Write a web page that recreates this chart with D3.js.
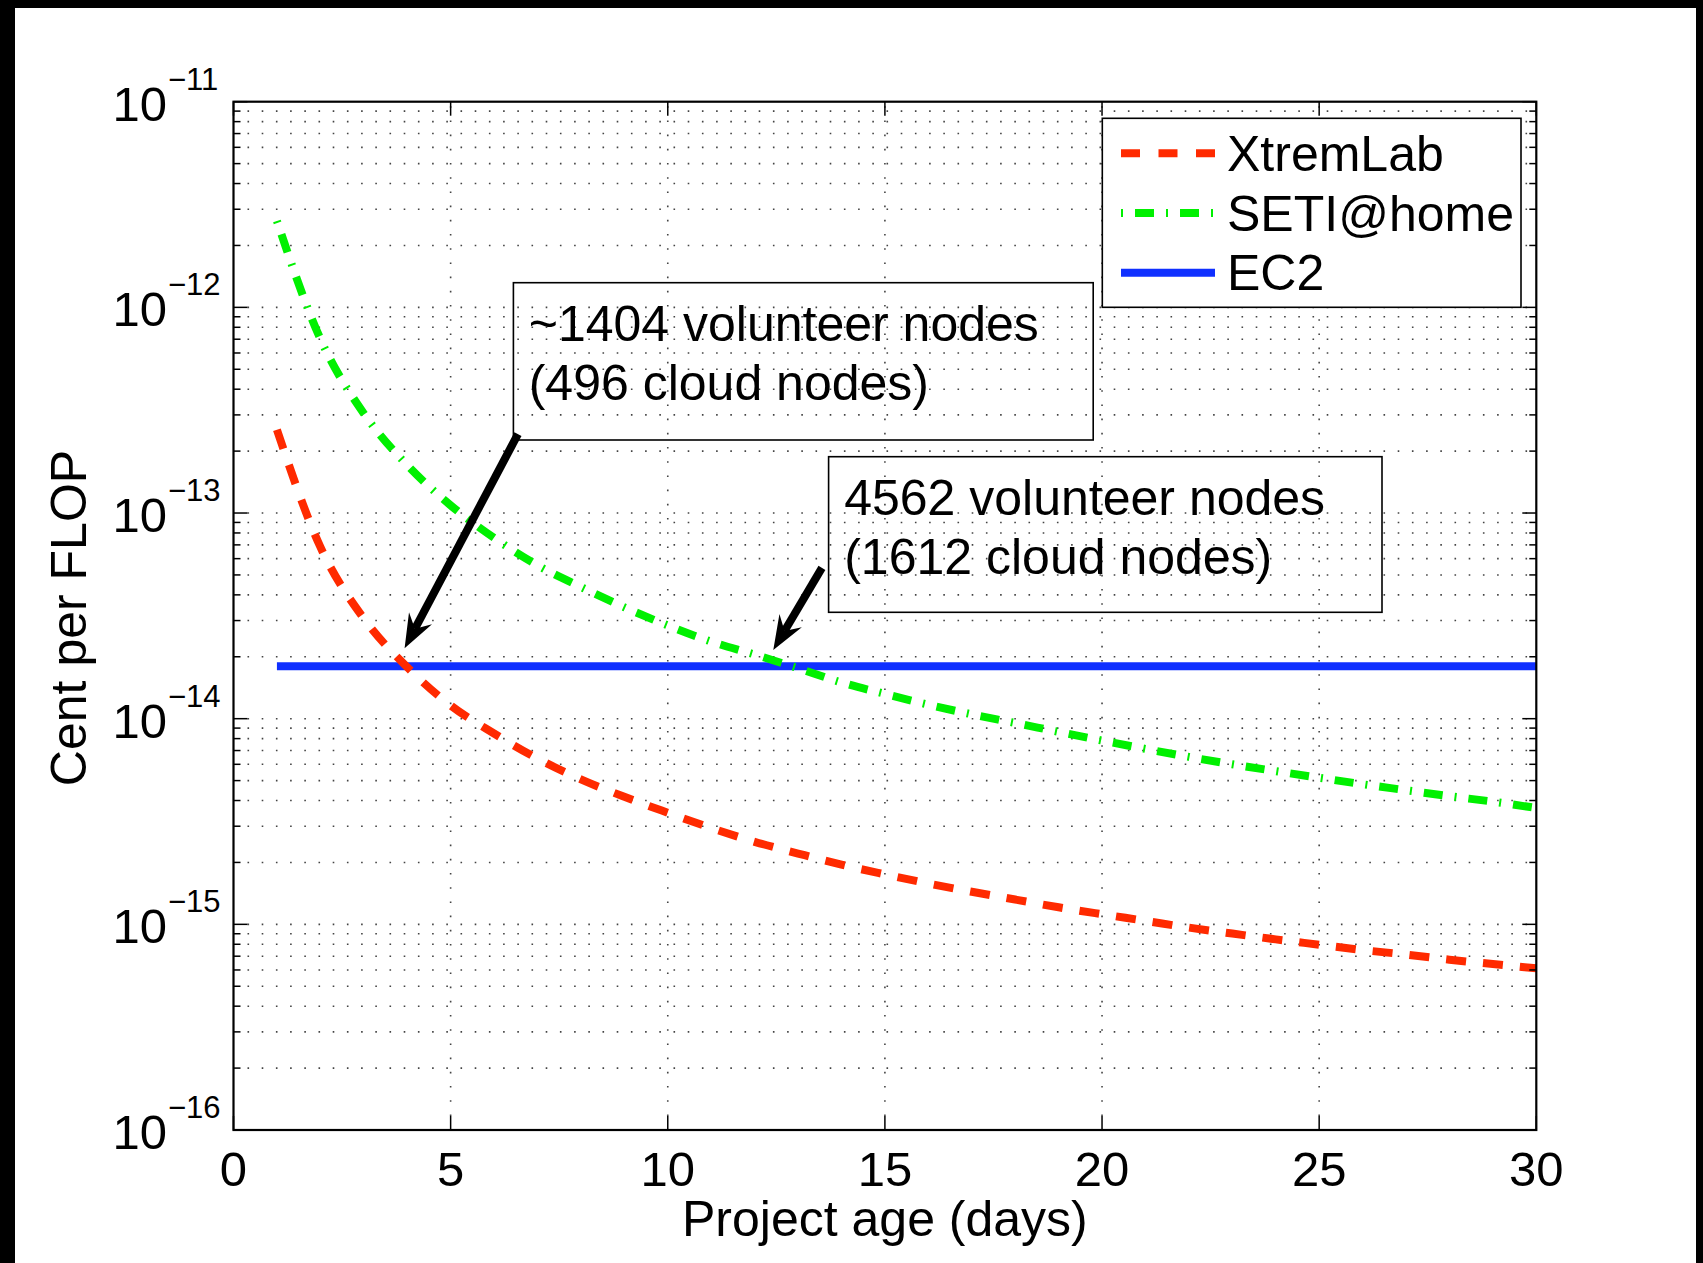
<!DOCTYPE html>
<html>
<head>
<meta charset="utf-8">
<script src="https://cdn.jsdelivr.net/npm/d3@7"></script>
<style>
  html, body { margin: 0; padding: 0; background: #000; }
  svg { display: block; }
  text { font-family: "Liberation Sans", Arial, Helvetica, sans-serif; fill: #000; }
</style>
</head>
<body>
<script>
// ---------------- DATA ----------------
const days = [1,2,3,4,5,6,7,8,9,10,11,12,13,14,15,16,17,18,19,20,21,22,23,24,25,26,27,28,29,30];
const xtremlab = [2.54e-13, 6.84e-14, 3.07e-14, 1.78e-14, 1.16e-14, 8.47e-15, 6.40e-15, 5.07e-15, 4.17e-15, 3.49e-15,
                  2.94e-15, 2.52e-15, 2.21e-15, 1.95e-15, 1.75e-15, 1.58e-15, 1.44e-15, 1.32e-15, 1.21e-15, 1.12e-15,
                  1.04e-15, 9.64e-16, 9.02e-16, 8.45e-16, 7.96e-16, 7.50e-16, 7.13e-16, 6.73e-16, 6.41e-16, 6.11e-16];
const seti = [2.63e-12, 7.03e-13, 3.05e-13, 1.71e-13, 1.09e-13, 7.57e-14, 5.57e-14, 4.37e-14, 3.48e-14, 2.84e-14,
              2.37e-14, 2.05e-14, 1.76e-14, 1.50e-14, 1.32e-14, 1.17e-14, 1.05e-14, 9.53e-15, 8.63e-15, 7.83e-15,
              7.13e-15, 6.52e-15, 6.00e-15, 5.56e-15, 5.16e-15, 4.80e-15, 4.49e-15, 4.20e-15, 3.95e-15, 3.68e-15];
const ec2Days = [1, 30];
const ec2 = [1.8e-14, 1.8e-14];
const seriesNames = ["XtremLab", "SETI@home", "EC2"];
const xTicks = [0, 5, 10, 15, 20, 25, 30];
const yDecades = [-16, -15, -14, -13, -12, -11];
const xLabel = "Project age (days)";
const yLabel = "Cent per FLOP";
const annotationLines = [
  ["~1404 volunteer nodes", "(496 cloud nodes)"],
  ["4562 volunteer nodes", "(1612 cloud nodes)"]
];
// arrow tail/tip in data coordinates [day, value]
const arrowTails = [[6.55, 2.42e-13], [13.55, 5.41e-14]];
const arrowTips  = [[3.94, 2.2e-14], [12.43, 2.16e-14]];

// ---------------- LAYOUT ----------------
const W = 1703, H = 1263;
const L = 233.5, R = 1536.3, T = 101.7, B = 1130;
const RED = "#ff2a00", GREEN = "#00f000", BLUE = "#1030ff";

const x = d3.scaleLinear().domain([0, 30]).range([L, R]);
const y = d3.scaleLog().domain([1e-16, 1e-11]).range([B, T]);

const svg = d3.select("body").append("svg").attr("width", W).attr("height", H);
svg.append("rect").attr("x", 0).attr("y", 0).attr("width", W).attr("height", H).attr("fill", "#000");
svg.append("rect").attr("x", 15).attr("y", 8).attr("width", 1696 - 15).attr("height", H - 8).attr("fill", "#fff");

// ---------------- GRID ----------------
const grid = svg.append("g");
const gridStyle = sel => sel.attr("stroke", "#444").attr("stroke-width", 1.6)
  .attr("stroke-dasharray", "1.6,12.6").attr("fill", "none");
// horizontal grid: majors and minors
const yGridVals = [];
yDecades.forEach(d => {
  for (let m = 1; m <= 9; m++) {
    const v = m * Math.pow(10, d);
    if (v >= 1e-16 * 0.999 && v <= 1e-11 * 1.001) yGridVals.push(v);
  }
});
yGridVals.filter(v => Math.abs(y(v) - T) > 1 && Math.abs(y(v) - B) > 1).forEach(v => {
  grid.append("line").attr("x1", L + 14).attr("x2", R).attr("y1", y(v)).attr("y2", y(v)).call(gridStyle);
});
xTicks.filter(v => v > 0 && v < 30).forEach(v => {
  grid.append("line").attr("x1", x(v)).attr("x2", x(v)).attr("y1", B - 14).attr("y2", T).call(gridStyle);
});

// ---------------- SERIES ----------------
const line = d3.line().x(d => x(d[0])).y(d => y(d[1])).curve(d3.curveMonotoneX);
const ec2Pts = ec2Days.map((d, i) => [d, ec2[i]]);
const redPts = days.map((d, i) => [d, xtremlab[i]]);
const greenPts = days.map((d, i) => [d, seti[i]]);

svg.append("path").attr("d", line(ec2Pts)).attr("fill", "none")
  .attr("stroke", BLUE).attr("stroke-width", 8);
svg.append("path").attr("d", line(redPts)).attr("fill", "none")
  .attr("stroke", RED).attr("stroke-width", 8).attr("stroke-dasharray", "20,17");
svg.append("path").attr("d", line(greenPts)).attr("fill", "none")
  .attr("stroke", GREEN).attr("stroke-width", 8).attr("stroke-dasharray", "19,12,2,12")
  .attr("stroke-dashoffset", 31);

// ---------------- AXES BOX & TICKS ----------------
const ax = svg.append("g");
xTicks.forEach(v => {
  ax.append("line").attr("x1", x(v)).attr("x2", x(v)).attr("y1", B).attr("y2", B - 14).attr("stroke", "#000").attr("stroke-width", 1.5);
  ax.append("line").attr("x1", x(v)).attr("x2", x(v)).attr("y1", T).attr("y2", T + 14).attr("stroke", "#000").attr("stroke-width", 1.5);
  ax.append("text").attr("x", x(v)).attr("y", 1186).attr("text-anchor", "middle")
    .attr("font-size", 49).text(v);
});
yGridVals.forEach(v => {
  const major = Math.abs(Math.log10(v) - Math.round(Math.log10(v))) < 1e-6;
  const len = major ? 14 : 7;
  ax.append("line").attr("x1", L).attr("x2", L + len).attr("y1", y(v)).attr("y2", y(v)).attr("stroke", "#000").attr("stroke-width", 1.5);
  ax.append("line").attr("x1", R).attr("x2", R - len).attr("y1", y(v)).attr("y2", y(v)).attr("stroke", "#000").attr("stroke-width", 1.5);
});
yDecades.forEach(d => {
  const yy = y(Math.pow(10, d));
  ax.append("text").attr("x", 167).attr("y", yy + 19).attr("text-anchor", "end")
    .attr("font-size", 49).text("10");
  ax.append("text").attr("x", 168).attr("y", yy - 12).attr("text-anchor", "start")
    .attr("font-size", 31).text("\u2212" + Math.abs(d));
});
ax.append("rect").attr("x", L).attr("y", T).attr("width", R - L).attr("height", B - T)
  .attr("fill", "none").attr("stroke", "#000").attr("stroke-width", 2.2);

// axis labels
svg.append("text").attr("x", (L + R) / 2).attr("y", 1236).attr("text-anchor", "middle")
  .attr("font-size", 50).text(xLabel);
svg.append("text").attr("transform", "translate(86,618) rotate(-90)").attr("text-anchor", "middle")
  .attr("font-size", 50).text(yLabel);

// ---------------- ANNOTATIONS ----------------
const boxes = [
  {x0: 513.4, y0: 282.7, x1: 1093.2, y1: 440, tx: 528.7},
  {x0: 828.6, y0: 456.7, x1: 1382, y1: 612.3, tx: 844.2}
];
boxes.forEach((b, i) => {
  svg.append("rect").attr("x", b.x0).attr("y", b.y0).attr("width", b.x1 - b.x0).attr("height", b.y1 - b.y0)
    .attr("fill", "none").attr("stroke", "#000").attr("stroke-width", 1.6);
  annotationLines[i].forEach((t, j) => {
    svg.append("text").attr("x", b.tx).attr("y", b.y0 + 58 + j * 59).attr("font-size", 50).text(t);
  });
});

arrowTails.forEach((tail, i) => {
  const tip = arrowTips[i];
  const x0 = x(tail[0]), y0 = y(tail[1]), x1 = x(tip[0]), y1 = y(tip[1]);
  const dx = x1 - x0, dy = y1 - y0, len = Math.hypot(dx, dy);
  const ux = dx / len, uy = dy / len, nx = -uy, ny = ux;
  const HL = 34, HW = 13, notch = 12;
  svg.append("line").attr("x1", x0).attr("y1", y0)
    .attr("x2", x1 - ux * (HL - notch)).attr("y2", y1 - uy * (HL - notch))
    .attr("stroke", "#000").attr("stroke-width", 8);
  const p = [
    [x1, y1],
    [x1 - ux * HL + nx * HW, y1 - uy * HL + ny * HW],
    [x1 - ux * (HL - notch), y1 - uy * (HL - notch)],
    [x1 - ux * HL - nx * HW, y1 - uy * HL - ny * HW]
  ];
  svg.append("path").attr("d", "M" + p.map(q => q.join(",")).join("L") + "Z").attr("fill", "#000");
});

// ---------------- LEGEND ----------------
const lg = svg.append("g");
lg.append("rect").attr("x", 1102.3).attr("y", 118.3).attr("width", 1521 - 1102.3).attr("height", 307.3 - 118.3)
  .attr("fill", "#fff").attr("stroke", "#000").attr("stroke-width", 1.6);
const legendStyles = [
  {stroke: RED, dash: "19,18.5", offset: 0},
  {stroke: GREEN, dash: "19,12,2,12", offset: 31},
  {stroke: BLUE, dash: null, offset: 0}
];
seriesNames.forEach((name, i) => {
  const ly = 153.3 + i * 59.7;
  const s = legendStyles[i];
  const ln = lg.append("line").attr("x1", 1121).attr("x2", 1215).attr("y1", ly).attr("y2", ly)
    .attr("stroke", s.stroke).attr("stroke-width", 8);
  if (s.dash) ln.attr("stroke-dasharray", s.dash).attr("stroke-dashoffset", s.offset);
  lg.append("text").attr("x", 1227).attr("y", ly + 17.5).attr("font-size", 50).text(name);
});
</script>
</body>
</html>
